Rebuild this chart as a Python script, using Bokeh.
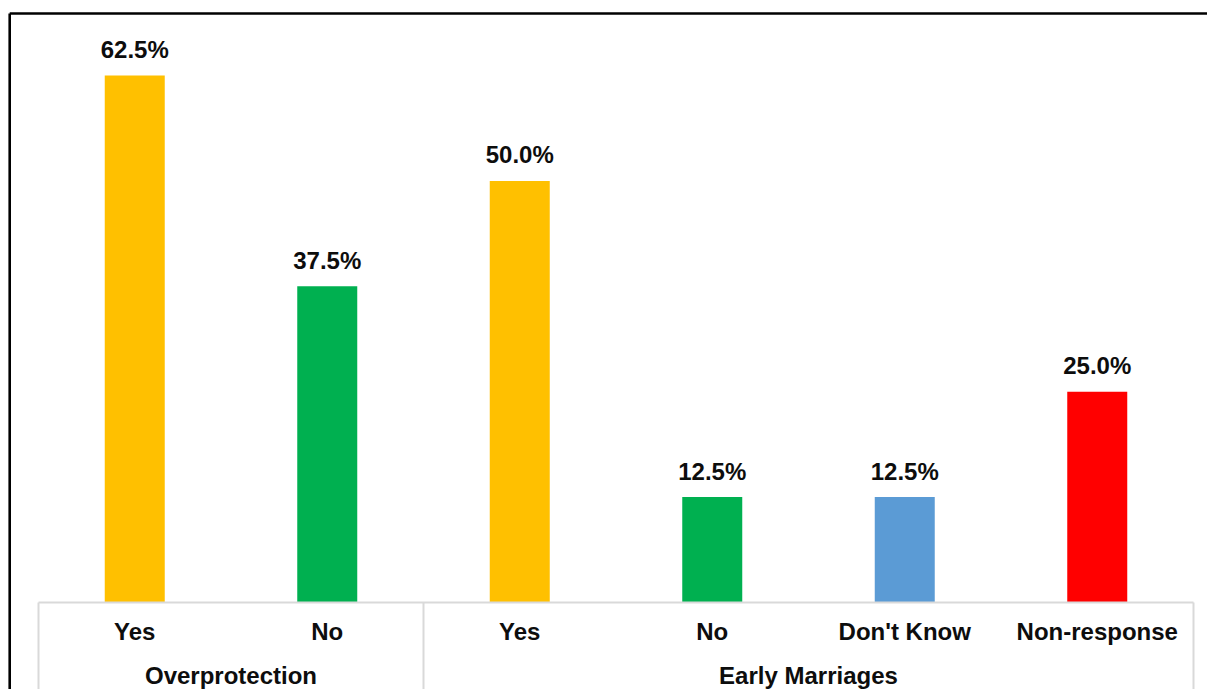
from bokeh.plotting import figure
from bokeh.models import ColumnDataSource, Range1d
from bokeh.core.properties import value
from bokeh.embed import file_html
from bokeh.resources import INLINE

groups = ["Overprotection", "Overprotection", "Early Marriages", "Early Marriages",
          "Early Marriages", "Early Marriages"]
answers = ["Yes", "No", "Yes", "No", "Don't Know", "Non-response"]
percent = [62.5, 37.5, 50.0, 12.5, 12.5, 25.0]
colors = ["#FFC000", "#00B050", "#FFC000", "#00B050", "#5B9BD5", "#FF0000"]

labels = [f"{v:.1f}%" for v in percent]
pos = [i + 0.5 for i in range(len(answers))]     # category slots on the x scale
src = ColumnDataSource(dict(x=pos, top=percent, color=colors, label=labels,
                            answer=answers))

group_names = []
for g in groups:
    if g not in group_names:
        group_names.append(g)
group_sizes = [groups.count(g) for g in group_names]
bounds = [0]
for n in group_sizes:
    bounds.append(bounds[-1] + n)
group_mid = [(a + b) / 2 for a, b in zip(bounds[:-1], bounds[1:])]

# layout (pixels)
W, H = 1207, 689
AX_L, AX_R = 38, 1193           # category axis extent
BASE_Y, TOP_Y = 602, 75         # baseline and top of the 62.5 bar
unit_x = (AX_R - AX_L) / len(answers)
unit_y = (BASE_Y - TOP_Y) / max(percent)

FONT = value("Liberation Sans")
TXT = "#0d0d0d"

x_range = Range1d(start=-AX_L / unit_x, end=len(answers) + (W - AX_R) / unit_x)
y_range = Range1d(start=-(H - BASE_Y) / unit_y, end=BASE_Y / unit_y)

p = figure(width=W, height=H, x_range=x_range, y_range=y_range,
           output_backend="svg", toolbar_location=None,
           x_axis_location=None, y_axis_location=None,
           min_border_left=0, min_border_right=0, min_border_top=0,
           min_border_bottom=0, outline_line_color=None,
           background_fill_color="white", border_fill_color="white")
p.grid.grid_line_color = None

# bars and value labels
p.vbar(x="x", top="top", width=60 / unit_x, color="color", line_color=None, source=src)
p.text(x="x", y="top", text="label", source=src, text_align="center",
       text_baseline="alphabetic", y_offset=-26, text_font=FONT,
       text_font_style="bold", text_font_size="24px", text_color=TXT)

# category axis: box lines
ybot = y_range.start - 5
p.segment(x0=[bounds[0]], y0=[0], x1=[bounds[-1]], y1=[0],
          line_color="#D9D9D9", line_width=2)
p.segment(x0=bounds, y0=[0] * len(bounds), x1=bounds, y1=[ybot] * len(bounds),
          line_color="#D9D9D9", line_width=2)

# category labels
p.text(x="x", y=0, text="answer", source=src, text_align="center",
       text_baseline="alphabetic", y_offset=28.5, text_font=FONT,
       text_font_style="bold", text_font_size="24px", text_color=TXT)
p.text(x=group_mid, y=[0] * len(group_names), text=group_names,
       text_align="center", text_baseline="alphabetic", y_offset=72.5,
       text_font=FONT, text_font_style="bold", text_font_size="24px",
       text_color=TXT)

# chart-area border: left and top edges, the rest lies outside the window
bx = (9.2 - AX_L) / unit_x
by = (BASE_Y - 13) / unit_y
p.segment(x0=[bx, bx], y0=[by, by], x1=[bx, len(answers) + 5], y1=[ybot, by],
          line_color="black", line_width=2.6)

open("out.html", "w").write(file_html(p, INLINE))
